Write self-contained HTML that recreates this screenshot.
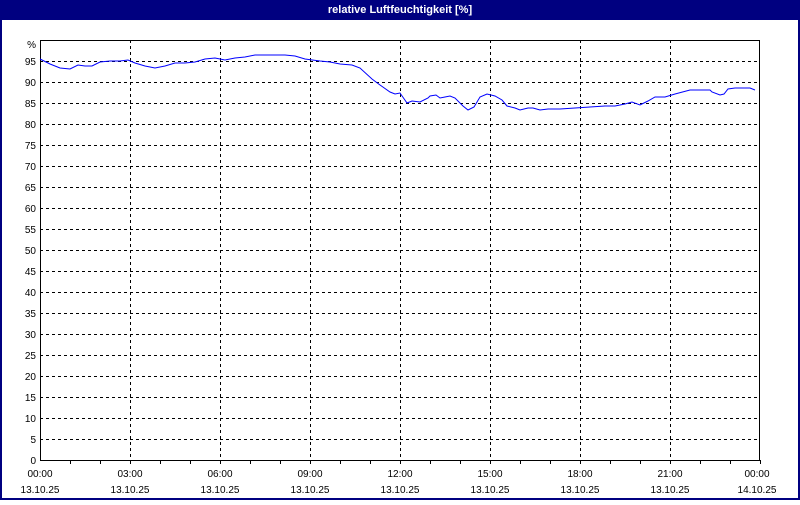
<!DOCTYPE html>
<html><head><style>
body{margin:0;width:800px;height:500px;overflow:hidden;background:#fff;font-family:"Liberation Sans",sans-serif;}
</style></head><body>
<svg width="800" height="500" xmlns="http://www.w3.org/2000/svg" font-family="'Liberation Sans',sans-serif" font-size="10">
<rect x="0" y="0" width="800" height="500" fill="#000080"/>
<rect x="2" y="20" width="796" height="478" fill="#fff"/>
<text x="400" y="13" fill="#fff" font-weight="bold" text-anchor="middle" font-size="11">relative Luftfeuchtigkeit [%]</text>
<g stroke="#000" stroke-dasharray="3,3" stroke-width="1">
<path d="M40 61.5H760M40 82.5H760M40 103.5H760M40 124.5H760M40 145.5H760M40 166.5H760M40 187.5H760M40 208.5H760M40 229.5H760M40 250.5H760M40 271.5H760M40 292.5H760M40 313.5H760M40 334.5H760M40 355.5H760M40 376.5H760M40 397.5H760M40 418.5H760M40 439.5H760"/>
<path d="M130.5 40V460M220.5 40V460M310.5 40V460M400.5 40V460M490.5 40V460M580.5 40V460M670.5 40V460"/>
</g>
<rect x="40.5" y="40.5" width="719" height="420" fill="none" stroke="#000"/>
<g stroke="#000"><path d="M70.5 460v4M100.5 460v4M130.5 460v4M160.5 460v4M190.5 460v4M220.5 460v4M250.5 460v4M280.5 460v4M310.5 460v4M340.5 460v4M370.5 460v4M400.5 460v4M430.5 460v4M460.5 460v4M490.5 460v4M520.5 460v4M550.5 460v4M580.5 460v4M610.5 460v4M640.5 460v4M670.5 460v4M700.5 460v4M730.5 460v4M760.5 460v4"/></g>
<polyline fill="none" stroke="#0000ff" stroke-width="1" points="40,59 50,64 60,68 70,69 78,65 85,66 92,66 100,62 110,61 120,61 128,60 135,63 145,66 155,68 165,66 175,63 185,63 195,62 205,59 215,58 225,60 235,58 245,57 255,55 270,55 285,55 295,56 305,59 320,61 330,62 340,64 352,65 360,68 372,79 380,85 390,92 395,94 400,93 407,103 412,101 420,102 428,98 430,96 436,95 440,98 445,97 450,96 455,98 463,106 468,110 474,107 480,97 487,94 495,96 502,100 507,106 515,108 520,110 528,108 533,108 540,110 548,109 560,109 575,108 590,107 605,106 615,106 625,104 632,102 640,105 648,101 655,97 665,97 675,94 690,90 710,90 712,92 720,95 724,94 728,89 735,88 750,88 755,90"/>
<g fill="#000" text-anchor="end">
<text x="36" y="48">%</text>
<text x="36" y="65">95</text><text x="36" y="86">90</text><text x="36" y="107">85</text><text x="36" y="128">80</text><text x="36" y="149">75</text><text x="36" y="170">70</text><text x="36" y="191">65</text><text x="36" y="212">60</text><text x="36" y="233">55</text><text x="36" y="254">50</text><text x="36" y="275">45</text><text x="36" y="296">40</text><text x="36" y="317">35</text><text x="36" y="338">30</text><text x="36" y="359">25</text><text x="36" y="380">20</text><text x="36" y="401">15</text><text x="36" y="422">10</text><text x="36" y="443">5</text><text x="36" y="464">0</text>
</g>
<g fill="#000" text-anchor="middle">
<text x="40" y="477">00:00</text><text x="40" y="493">13.10.25</text>
<text x="130" y="477">03:00</text><text x="130" y="493">13.10.25</text>
<text x="220" y="477">06:00</text><text x="220" y="493">13.10.25</text>
<text x="310" y="477">09:00</text><text x="310" y="493">13.10.25</text>
<text x="400" y="477">12:00</text><text x="400" y="493">13.10.25</text>
<text x="490" y="477">15:00</text><text x="490" y="493">13.10.25</text>
<text x="580" y="477">18:00</text><text x="580" y="493">13.10.25</text>
<text x="670" y="477">21:00</text><text x="670" y="493">13.10.25</text>
<text x="757" y="477">00:00</text><text x="757" y="493">14.10.25</text>
</g>
</svg>
</body></html>
